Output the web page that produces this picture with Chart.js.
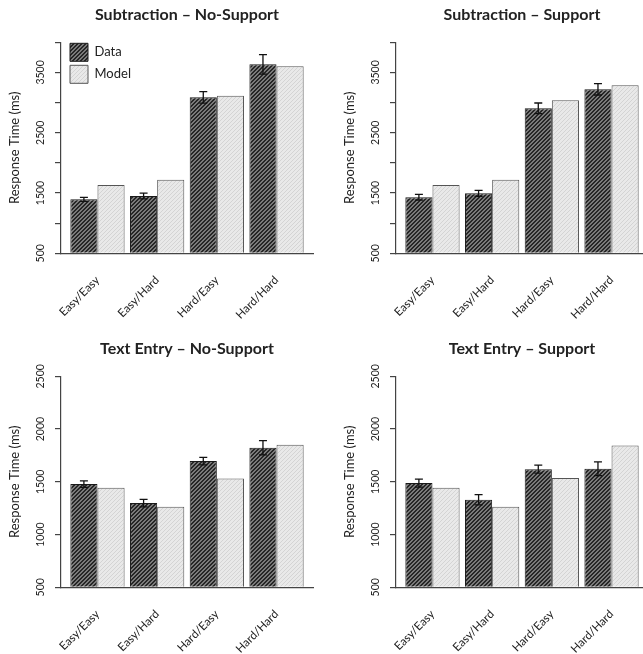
<!DOCTYPE html>
<html><head><meta charset="utf-8">
<script src="https://cdn.jsdelivr.net/npm/chart.js@4.4.1/dist/chart.umd.min.js"></script>
<style>
html,body{margin:0;padding:0;background:#fff;overflow:hidden;width:643px;height:654px;position:relative;}
canvas{position:absolute;}
</style></head><body>
<canvas id="c1" width="335" height="334" style="left:0;top:0"></canvas>
<canvas id="c2" width="335" height="334" style="left:335px;top:0"></canvas>
<canvas id="c3" width="335" height="334" style="left:0;top:334px"></canvas>
<canvas id="c4" width="335" height="334" style="left:335px;top:334px"></canvas>
<script>
// ---- data ----
const categories = ['Easy/Easy', 'Easy/Hard', 'Hard/Easy', 'Hard/Hard'];
const seriesNames = ['Data', 'Model'];

const subNoSupportData  = [1395, 1450, 3087, 3634];
const subNoSupportErr   = [33, 47, 95, 163];
const subNoSupportModel = [1633, 1721, 3114, 3601];

const subSupportData  = [1429, 1495, 2905, 3220];
const subSupportErr   = [47, 50, 88, 94];
const subSupportModel = [1633, 1721, 3037, 3286];

const txtNoSupportData  = [1478, 1298, 1696, 1823];
const txtNoSupportErr   = [30, 35, 36, 68];
const txtNoSupportModel = [1444, 1264, 1532, 1851];

const txtSupportData  = [1488, 1330, 1620, 1623];
const txtSupportErr   = [38, 49, 38, 65];
const txtSupportModel = [1444, 1264, 1535, 1845];

const subYTicks = [500, 1000, 1500, 2000, 2500, 3000, 3500, 4000];
const subYLabels = [500, 1500, 2500, 3500];
const txtYTicks = [500, 1000, 1500, 2000, 2500];
const txtYLabels = [500, 1000, 1500, 2000, 2500];

// ---- styling helpers ----
Chart.defaults.font.family = 'Lato';
Chart.defaults.color = '#222';

function makePattern(ctx, base, dark, on) {
  const c = document.createElement('canvas');
  c.width = 4; c.height = 4;
  const g = c.getContext('2d');
  g.fillStyle = base; g.fillRect(0, 0, 4, 4);
  g.fillStyle = dark;
  for (let y = 0; y < 4; y++) for (let x = 0; x < 4; x++) {
    if ((x + y) % 4 < on) g.fillRect(x, y, 1, 1);
  }
  return ctx.createPattern(c, 'repeat');
}

const errorBars = {
  id: 'errorBars',
  afterDatasetsDraw(chart, args, opts) {
    const errs = opts.errors;
    if (!errs) return;
    const meta = chart.getDatasetMeta(0);
    const ys = chart.scales.y;
    const ctx = chart.ctx;
    ctx.save();
    ctx.strokeStyle = '#111';
    ctx.lineWidth = 1.3;
    meta.data.forEach((bar, i) => {
      const v = chart.data.datasets[0].data[i].y;
      const top = ys.getPixelForValue(v + errs[i]);
      const bot = ys.getPixelForValue(v - errs[i]);
      const x = bar.x, cap = 4;
      ctx.beginPath();
      ctx.moveTo(x, top); ctx.lineTo(x, bot);
      ctx.moveTo(x - cap, top); ctx.lineTo(x + cap, top);
      ctx.moveTo(x - cap, bot); ctx.lineTo(x + cap, bot);
      ctx.stroke();
    });
    ctx.restore();
  }
};

const legendShift = {
  id: 'legendShift',
  afterLayout(chart) {
    const lg = chart.legend;
    if (lg && chart.options.plugins.legend.display) {
      const h = lg.bottom - lg.top;
      lg.left = chart.chartArea.left + 5;
      lg.top = chart.chartArea.top - 3;
      lg.bottom = lg.top + h;
    }
  }
};

function makeChart(id, title, dataVals, errVals, modelVals, yTicks, yLabels, showLegend) {
  const ctx = document.getElementById(id).getContext('2d');
  const dataPat = makePattern(ctx, '#7a7a7a', '#262626', 2);
  const modelPat = makePattern(ctx, '#e9e9e9', '#d4d4d4', 1);
  return new Chart(ctx, {
    type: 'bar',
    data: {
      datasets: [
        { label: seriesNames[0], data: dataVals.map((v, i) => ({ x: i + 1, y: v })),
          backgroundColor: dataPat, borderColor: '#1a1a1a', borderWidth: 1, base: yTicks[0],
          categoryPercentage: 2 / 2.2, barPercentage: 1 },
        { label: seriesNames[1], data: modelVals.map((v, i) => ({ x: i + 1, y: v })),
          backgroundColor: modelPat, borderColor: '#555', borderWidth: 1, base: yTicks[0],
          categoryPercentage: 2 / 2.2, barPercentage: 1 }
      ]
    },
    options: {
      responsive: false, animation: false, devicePixelRatio: 1,
      layout: { padding: { left: 0, right: 22, top: 0, bottom: 10.7 } },
      scales: {
        x: {
          type: 'linear', min: 0.389, max: 4.611, offset: false,
          afterBuildTicks: s => { s.ticks = categories.map((c, i) => ({ value: i + 1 })); },
          afterFit: s => { s.height = 70; },
          grid: { display: false },
          border: { display: true, color: '#444', width: 1.2 },
          ticks: { autoSkip: false, minRotation: 45, maxRotation: 45, padding: 12,
                   color: '#222', font: { size: 11.5 },
                   callback: v => categories[v - 1] ?? '' }
        },
        y: {
          type: 'linear', min: yTicks[0], max: yTicks[yTicks.length - 1],
          afterBuildTicks: s => { s.ticks = yTicks.map(v => ({ value: v })); },
          afterFit: s => { s.width = 61; },
          grid: { display: true, drawOnChartArea: false, drawTicks: true, tickLength: 6,
                  color: '#444', lineWidth: 1.2 },
          border: { display: true, color: '#444', width: 1.2 },
          ticks: { autoSkip: false, minRotation: 90, maxRotation: 90, crossAlign: 'center',
                   padding: 2, color: '#222', font: { size: 10.5 },
                   callback: v => yLabels.includes(v) ? String(v) : '' },
          title: { display: true, text: 'Response Time (ms)', color: '#222',
                   font: { size: 13 }, padding: { top: 7.2, bottom: 0 } }
        }
      },
      plugins: {
        title: { display: true, text: title, fullSize: false, color: '#222',
                 font: { size: 16, weight: 'bold' }, padding: { top: 5.4, bottom: 17.7 } },
        legend: showLegend ? {
          display: true, position: 'chartArea', align: 'start',
          labels: { boxWidth: 18, boxHeight: 18, padding: 4, color: '#222', font: { size: 13 } }
        } : { display: false },
        tooltip: { enabled: false },
        errorBars: { errors: errVals }
      }
    },
    plugins: [errorBars, legendShift]
  });
}

makeChart('c1', 'Subtraction \u2013 No-Support', subNoSupportData, subNoSupportErr, subNoSupportModel, subYTicks, subYLabels, true);
makeChart('c2', 'Subtraction \u2013 Support', subSupportData, subSupportErr, subSupportModel, subYTicks, subYLabels, false);
makeChart('c3', 'Text Entry \u2013 No-Support', txtNoSupportData, txtNoSupportErr, txtNoSupportModel, txtYTicks, txtYLabels, false);
makeChart('c4', 'Text Entry \u2013 Support', txtSupportData, txtSupportErr, txtSupportModel, txtYTicks, txtYLabels, false);
</script>
</body></html>
